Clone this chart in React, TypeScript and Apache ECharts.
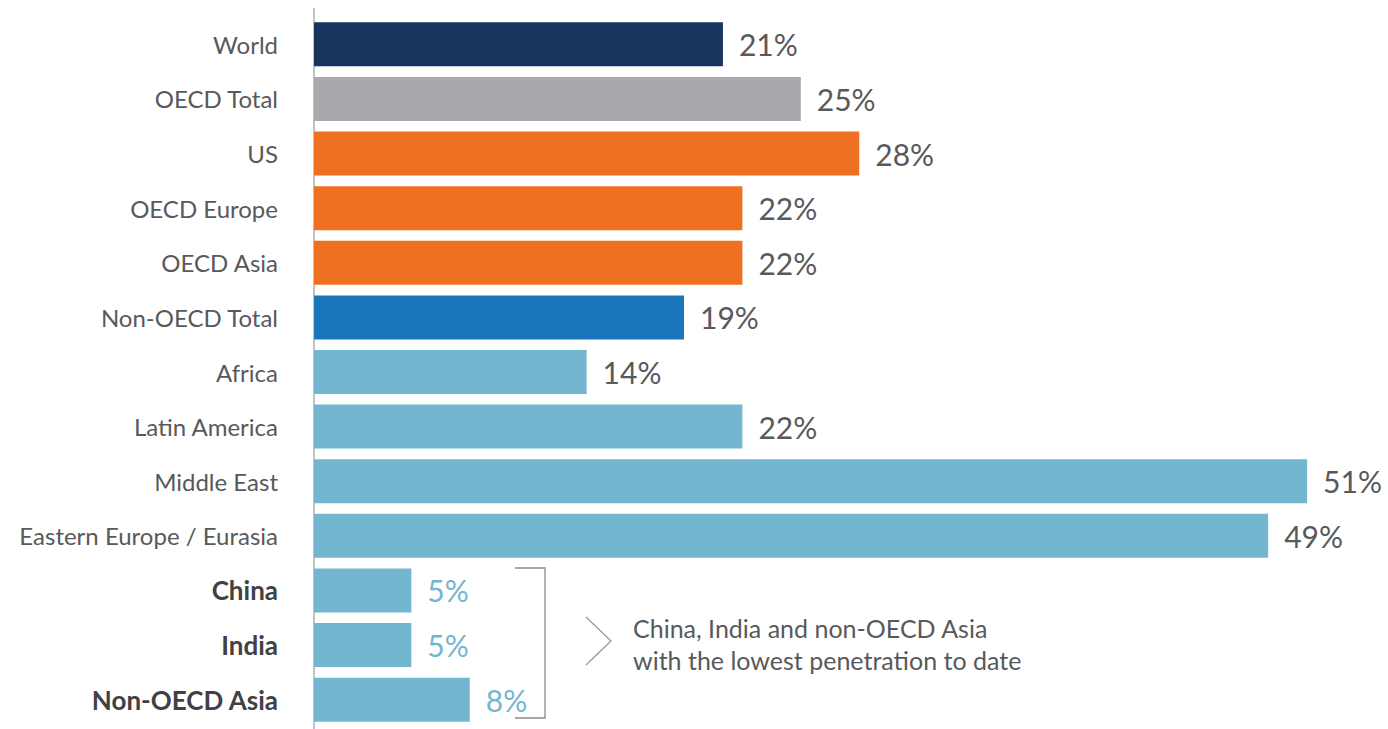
import React, { useEffect, useRef } from "react";
import * as echarts from "echarts";

const categories = [
  "World",
  "OECD Total",
  "US",
  "OECD Europe",
  "OECD Asia",
  "Non-OECD Total",
  "Africa",
  "Latin America",
  "Middle East",
  "Eastern Europe / Eurasia",
  "China",
  "India",
  "Non-OECD Asia",
];
const values = [21, 25, 28, 22, 22, 19, 14, 22, 51, 49, 5, 5, 8];
const groups = [
  "world",
  "oecdTotal",
  "oecd",
  "oecd",
  "oecd",
  "nonOecdTotal",
  "nonOecd",
  "nonOecd",
  "nonOecd",
  "nonOecd",
  "asia",
  "asia",
  "asia",
];
const groupColors: Record<string, string> = {
  world: "#17365d",
  oecdTotal: "#a7a9ac",
  oecd: "#f07022",
  nonOecdTotal: "#1a75bb",
  nonOecd: "#74b6cf",
  asia: "#74b6cf",
};
const noteLines = ["China, India and non-OECD Asia", "with the lowest penetration to date"];

const FONT = "Lato, 'Open Sans', sans-serif";

export default function App() {
  const ref = useRef<HTMLDivElement>(null);
  useEffect(() => {
    if (!ref.current) return;
    const chart = echarts.init(ref.current, undefined, { renderer: "svg" });
    const data = values.map((v, i) => {
      const asia = groups[i] === "asia";
      return {
        value: v,
        itemStyle: { color: groupColors[groups[i]] },
        label: { color: asia ? "#74b6cf" : "#58595b" },
      };
    });
    chart.setOption({
      animation: false,
      backgroundColor: "#ffffff",
      grid: { left: 314, right: 3, top: 17, bottom: 2, containLabel: false },
      xAxis: {
        type: "value",
        min: 0,
        max: 55,
        show: false,
      },
      yAxis: {
        type: "category",
        data: categories,
        inverse: true,
        axisLine: { show: false },
        axisTick: { show: false },
        axisLabel: {
          margin: 36,
          fontFamily: FONT,
          fontSize: 24,
          color: "#4d4d4f",
          formatter: (v: string, i: number) =>
            groups[i] === "asia" ? `{b|${v}}` : `{n|${v}}`,
          rich: {
            n: { fontFamily: FONT, fontSize: 24, color: "#58595b" },
            b: { fontFamily: FONT, fontSize: 26, color: "#414042", fontWeight: "bold" },
          },
        },
      },
      series: [
        {
          type: "bar",
          data,
          barWidth: 44,
          label: {
            show: true,
            position: "right",
            distance: 16,
            fontFamily: FONT,
            fontSize: 30,
            formatter: "{c}%",
          },
        },
      ],
      graphic: [
        {
          type: "line",
          shape: { x1: 314, y1: 8, x2: 314, y2: 729 },
          style: { stroke: "#9a9a9a", lineWidth: 1.2 },
        },
        {
          type: "polyline",
          shape: { points: [[515, 568], [545, 568], [545, 718], [515, 718]] },
          style: { stroke: "#8a8a8a", lineWidth: 1.3, fill: "none" },
        },
        {
          type: "polyline",
          shape: { points: [[586, 617], [611, 641], [586, 665]] },
          style: { stroke: "#9a9a9a", lineWidth: 1.3, fill: "none" },
        },
        {
          type: "text",
          x: 633,
          y: 628,
          style: {
            text: noteLines[0],
            fontFamily: FONT,
            fontSize: 25,
            fill: "#58595b",
            textVerticalAlign: "middle",
          },
        },
        {
          type: "text",
          x: 633,
          y: 660,
          style: {
            text: noteLines[1],
            fontFamily: FONT,
            fontSize: 25,
            fill: "#58595b",
            textVerticalAlign: "middle",
          },
        },
      ],
    });
    return () => chart.dispose();
  }, []);
  return (
    <div
      ref={ref}
      style={{ position: "fixed", left: 0, top: 0, width: 1388, height: 729 }}
    />
  );
}
